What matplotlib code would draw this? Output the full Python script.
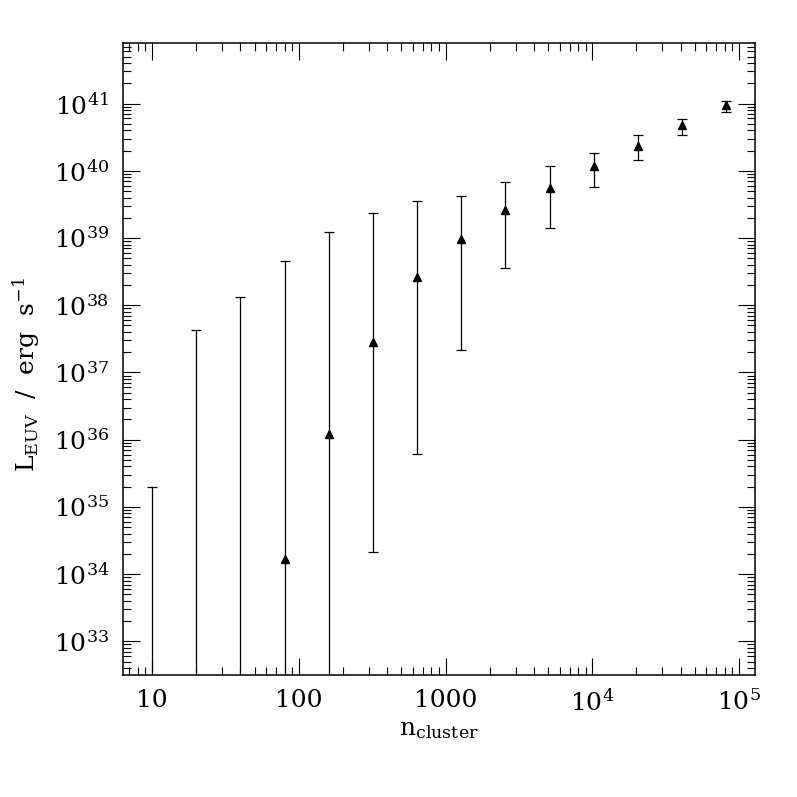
import numpy as np
import matplotlib
matplotlib.use('Agg')
import matplotlib.pyplot as plt
from matplotlib.ticker import LogLocator, FuncFormatter, NullFormatter

plt.rcParams['font.family'] = 'DejaVu Serif'
plt.rcParams['mathtext.fontset'] = 'dejavuserif'

# cluster size and log10 of L_EUV (erg/s): central value, upper and lower bar ends
# None -> below the plotted range (bar runs off the bottom)
n_cluster = [10, 20, 40, 80, 160, 320, 640, 1280, 2560, 5120,
             10240, 20480, 40960, 81920]
logL_mid = [None, None, None, 34.23, 36.09, 37.45, 38.42, 38.99, 39.41,
            39.74, 40.07, 40.37, 40.68, 40.98]
logL_hi = [35.29, 37.63, 38.12, 38.66, 39.09, 39.37, 39.55, 39.62, 39.83,
           40.07, 40.27, 40.53, 40.77, 41.04]
logL_lo = [None, None, None, None, None, 34.33, 35.78, 37.33, 38.56,
           39.15, 39.76, 40.16, 40.53, 40.88]

x = np.array(n_cluster, dtype=float)
hi = 10.0**np.array(logL_hi)
# points hidden below the axis: put them under the bottom limit
mid = np.array([10.0**v if v is not None else 1e32 for v in logL_mid])
lo = np.array([10.0**v if v is not None else 0.0 for v in logL_lo])

fig = plt.figure(figsize=(7.97, 7.97), dpi=100)
ax = fig.add_axes([0.1543, 0.1531, 0.793, 0.7929])
ax.set_xscale('log')
ax.set_yscale('log', nonpositive='clip')

ax.errorbar(x, mid, yerr=[mid - lo, hi - mid], fmt='^', color='black',
            ms=5.2, elinewidth=0.9, capsize=3.3, capthick=0.9)

ax.set_xlim(10**0.802, 10**5.109)
ax.set_ylim(10**32.5, 10**41.9)

ax.xaxis.set_major_locator(LogLocator(base=10, numticks=20))
ax.xaxis.set_minor_locator(LogLocator(base=10, subs=np.arange(2, 10), numticks=100))
ax.yaxis.set_major_locator(LogLocator(base=10, numticks=30))
ax.yaxis.set_minor_locator(LogLocator(base=10, subs=np.arange(2, 10), numticks=200))

def xfmt(v, pos):
    e = int(round(np.log10(v)))
    if e <= 3:
        return '%d' % round(v)
    return r'$10^{%d}$' % e

ax.xaxis.set_major_formatter(FuncFormatter(xfmt))
ax.yaxis.set_major_formatter(FuncFormatter(lambda v, p: r'$10^{%d}$' % int(round(np.log10(v)))))
ax.xaxis.set_minor_formatter(NullFormatter())
ax.yaxis.set_minor_formatter(NullFormatter())

ax.tick_params(which='both', direction='in', top=True, right=True, width=0.8,
               labelsize=18)
ax.tick_params(which='major', length=12, pad=10)
ax.tick_params(which='minor', length=6)
for s in ax.spines.values():
    s.set_linewidth(1.1)

ax.set_xlabel(r'n$_{\rm cluster}$', fontsize=18, labelpad=2)
ax.set_ylabel(r'L$_{\rm EUV}$  /  erg  s$^{-1}$', fontsize=18)
ax.yaxis.set_label_coords(-0.128, 0.475)

fig.savefig('out.png', dpi=100)
